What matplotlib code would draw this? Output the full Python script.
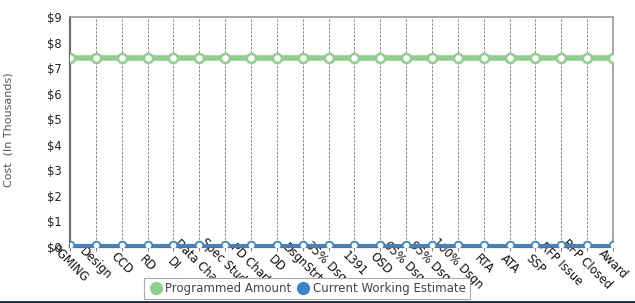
import matplotlib
matplotlib.use("Agg")
import matplotlib.pyplot as plt
from matplotlib.lines import Line2D
from matplotlib.ticker import FuncFormatter, MultipleLocator

categories = ["PGMING", "Design", "CCD", "RD", "DI", "Data Chart", "Spec Study",
              "PD Chart", "DD", "DsgnStrt", "35% Dsgn", "1391", "OSD", "65% Dsgn",
              "95% Dsgn", "100% Dsgn", "RTA", "ATA", "SSP", "RFP Issue",
              "RFP Closed", "Award"]
programmed = [7.4, 7.4, 7.4, 7.4, 7.4, 7.4, 7.4, 7.4, 7.4, 7.4, 7.4,
              7.4, 7.4, 7.4, 7.4, 7.4, 7.4, 7.4, 7.4, 7.4, 7.4, 7.4]
working = [0.06, 0.06, 0.06, 0.06, 0.06, 0.06, 0.06, 0.06, 0.06, 0.06, 0.06,
           0.06, 0.06, 0.06, 0.06, 0.06, 0.06, 0.06, 0.06, 0.06, 0.06, 0.06]
series_names = ["Programmed Amount", "Current Working Estimate"]

GREEN = "#8FCF8C"
BLUE = "#3A84C9"

fig = plt.figure(figsize=(6.35, 3.03), dpi=100)
ax = fig.add_axes([70 / 635, 1 - 247 / 303, (613 - 70) / 635, (247 - 17) / 303])

x = list(range(len(categories)))
ax.plot(x, programmed, color=GREEN, lw=4, marker="o", ms=6.5,
        mfc="white", mec=GREEN, mew=1.8, zorder=4)
ax.plot(x, working, color=BLUE, lw=2.2, marker="o", ms=5.5,
        mfc="white", mec=BLUE, mew=1.3, zorder=5)

ax.set_xlim(0, len(categories) - 1)
ax.set_ylim(0, 9)
ax.yaxis.set_major_locator(MultipleLocator(1))
ax.yaxis.set_major_formatter(FuncFormatter(lambda v, p: f"${int(v)}"))
ax.set_xticks(x)
ax.set_xticklabels(categories)
ax.grid(axis="x", color="#888888", ls=(0, (2.5, 1.5)), lw=0.7)
ax.set_axisbelow(True)

ax.tick_params(axis="y", length=0, pad=6, labelsize=8.3, labelcolor="#222222")
ax.tick_params(axis="x", length=3, color="#888888", pad=9, labelsize=8.3,
               labelcolor="#111111")
for lab in ax.get_xticklabels():
    lab.set_rotation(-45)
    lab.set_rotation_mode("anchor")
    lab.set_ha("center")
    lab.set_va("center")

for s in ("left", "bottom"):
    ax.spines[s].set_color("#6E6E6E")
    ax.spines[s].set_linewidth(1.6)
for s in ("top", "right"):
    ax.spines[s].set_color("#9A9A9A")
    ax.spines[s].set_linewidth(1.2)

fig.text(9 / 635, 1 - 130 / 303, "Cost  (In Thousands)", rotation=90,
         ha="center", va="center", fontsize=8, color="#555555")

handles = [Line2D([], [], ls="none", marker="o", ms=8.5, color=GREEN),
           Line2D([], [], ls="none", marker="o", ms=8.5, color=BLUE)]
leg = fig.legend(handles, series_names, ncol=2, loc="center",
                 bbox_to_anchor=(307 / 635, 1 - 288.5 / 303),
                 fontsize=8.5, frameon=True, fancybox=False,
                 edgecolor="#AAAAAA", framealpha=1, handletextpad=0.2,
                 columnspacing=0.4, borderpad=0.35, handlelength=1.2)
leg.get_frame().set_linewidth(0.8)
for t in leg.get_texts():
    t.set_color("#444444")

fig.add_artist(Line2D([0, 1], [1 / 303, 1 / 303], transform=fig.transFigure,
                      color="#1C2340", lw=2))

fig.savefig("out.png", dpi=100)
